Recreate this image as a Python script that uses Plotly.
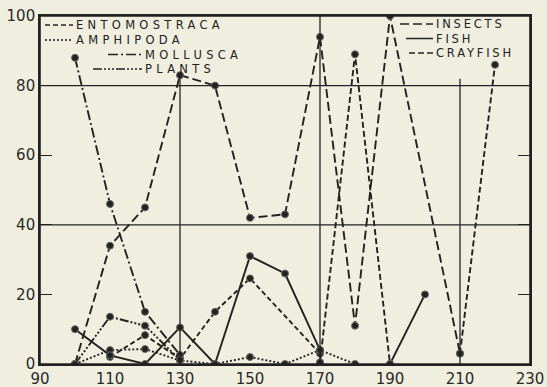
import plotly.graph_objects as go

# Fish length classes (mm)
sizes = [100, 110, 120, 130, 140, 150, 160, 170, 180, 190, 200, 210, 220]

# Percentage of each food item by length class (None = not recorded)
entomostraca = [None, 2, 8.3, 1.5, 15, 24.6, None, 3, None, None, None, None, None]
amphipoda = [0, 4, 4.3, 1, 0, 2, 0, 4, 0, None, None, None, None]
mollusca = [88, 46, 15, 2.6, None, None, None, None, None, None, None, None, None]
plants = [0, 13.6, 11, 1.2, None, None, None, None, None, None, None, None, None]
insects = [0, 34, 45, 83, 80, 42, 43, 94, 11, 100, None, 3, None]
fish = [10, 2.5, 0, 10.5, 0, 31, 26, 4, None, 0, 20, None, None]
crayfish = [None, None, None, None, None, None, None, 0.5, 89, 0, None, 3, 86]

x_ticks = [90, 110, 130, 150, 170, 190, 210, 230]
y_ticks = [0, 20, 40, 60, 80, 100]

INK = "#222222"
PAPER = "#f0eedf"
FONT = "DejaVu Sans"

# name, values, dash pattern, bridge gaps
series = [
    ("ENTOMOSTRACA", entomostraca, "5px,3px", True),
    ("AMPHIPODA", amphipoda, "2px,2px", False),
    ("MOLLUSCA", mollusca, "10px,3px,2px,3px", False),
    ("PLANTS", plants, "9px,2px,2px,2px,2px,2px,2px,2px", False),
    ("INSECTS", insects, "9px,4px", True),
    ("FISH", fish, "solid", False),
    ("CRAYFISH", crayfish, "6px,3px", False),
]

fig = go.Figure()
for name, vals, dash, bridge in series:
    fig.add_trace(go.Scatter(
        x=sizes, y=vals, name=name, mode="lines+markers",
        connectgaps=bridge,
        line=dict(color=INK, width=1.9, dash=dash),
        marker=dict(size=7, color=INK, line=dict(color="#6a6a66", width=1)),
        showlegend=False,
    ))

# plot-area geometry in pixels, used to place the hand-drawn key
L, R, T, B = 40, 17, 16, 23
W, H = 547, 387
PW, PH = W - L - R, H - T - B


def px(x):
    return (x - L) / PW


def py(y):
    return (H - B - y) / PH


# key entries: label, sample start, sample end, row y (px), dash, tracking
key = [
    ("ENTOMOSTRACA", 45, 73, 25, "5px,3px", 4.3),
    ("AMPHIPODA", 45, 73, 40, "2px,2px", 4.3),
    ("MOLLUSCA", 108, 142, 54.5, "10px,3px,2px,3px", 4.3),
    ("PLANTS", 93, 142, 69, "9px,2px,2px,2px,2px,2px,2px,2px", 4.3),
    ("INSECTS", 400, 433, 24, "9px,4px", 2.8),
    ("FISH", 406, 433, 38.5, "solid", 2.8),
    ("CRAYFISH", 409, 433, 53, "6px,3px", 2.8),
]

shapes = []
annotations = []
for label, x0, x1, yy, dash, track in key:
    shapes.append(dict(type="line", xref="paper", yref="paper",
                       x0=px(x0), x1=px(x1), y0=py(yy), y1=py(yy),
                       line=dict(color=INK, width=1.5, dash=dash)))
    annotations.append(dict(
        xref="paper", yref="paper", x=px(x1 + 1), y=py(yy),
        xanchor="left", yanchor="middle", showarrow=False,
        text=f'<span style="letter-spacing:{track}px">{label}</span>',
        font=dict(family=FONT, size=11.5, color=INK),
    ))

# frame around the plotting area
shapes.append(dict(type="rect", xref="paper", yref="paper",
                   x0=0, x1=1, y0=0, y1=1, layer="above",
                   line=dict(color=INK, width=1.6)))
# horizontal rules
for level in (40, 80):
    shapes.append(dict(type="line", xref="paper", yref="y", x0=0, x1=1,
                       y0=level, y1=level, line=dict(color=INK, width=1.3)))
# vertical rules
for xv, top in ((130, 83), (170, 100), (210, 82)):
    shapes.append(dict(type="line", xref="x", yref="y", x0=xv, x1=xv,
                       y0=0, y1=top, line=dict(color=INK, width=1.3)))

fig.update_layout(
    width=W, height=H,
    margin=dict(l=L, r=R, t=T, b=B, pad=0, autoexpand=False),
    paper_bgcolor=PAPER, plot_bgcolor=PAPER,
    shapes=shapes, annotations=annotations,
    font=dict(family=FONT, size=15, color="#2a2a2a"),
)
fig.update_xaxes(
    range=[90, 230], tickvals=x_ticks, ticktext=[str(v) for v in x_ticks],
    showgrid=False, zeroline=False, showline=True, mirror=True,
    linecolor=INK, linewidth=1.6, ticks="", ticklabelstandoff=0,
    automargin=False,
    tickfont=dict(family=FONT, size=15, color="#2a2a2a"),
)
fig.update_yaxes(
    range=[0, 100], tickvals=y_ticks, ticktext=[str(v) for v in y_ticks],
    showgrid=False, zeroline=False, showline=True, mirror="ticks",
    linecolor=INK, linewidth=1.6, ticks="inside", ticklen=12,
    tickcolor=INK, tickwidth=1.3, automargin=False,
    tickfont=dict(family=FONT, size=15, color="#2a2a2a"),
)

fig.write_html("out.html")
